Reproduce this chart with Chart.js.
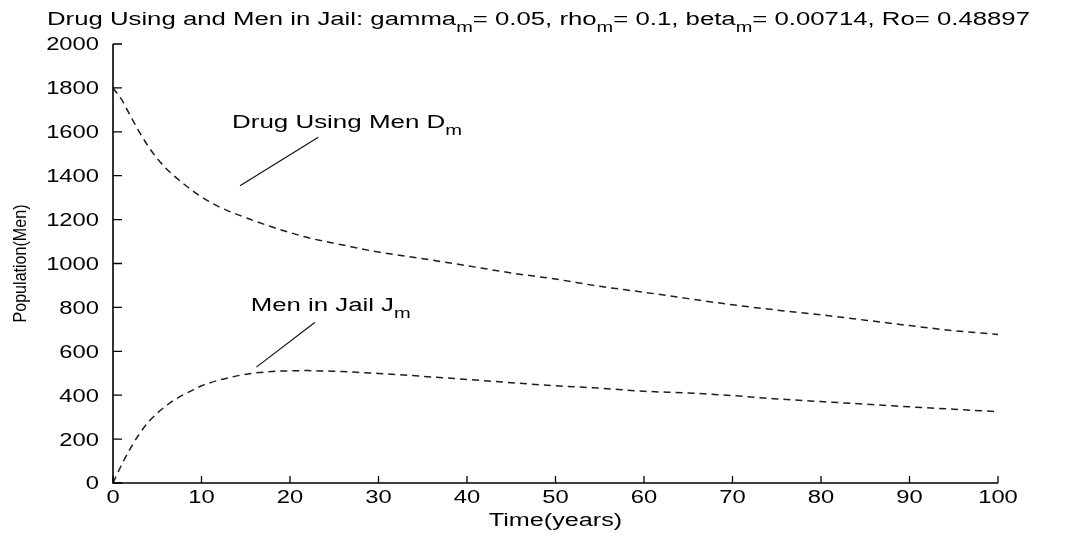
<!DOCTYPE html>
<html>
<head>
<meta charset="utf-8">
<script src="https://cdn.jsdelivr.net/npm/chart.js@4/dist/chart.umd.min.js"></script>
<style>
  html, body { margin: 0; padding: 0; background: #fff; }
  #wrap { position: relative; width: 1065px; height: 536px; }
</style>
</head>
<body>
<div id="wrap"><canvas id="c" width="1065" height="536"></canvas></div>
<script>
// Model output: time in years, populations in men
const years = [0,1,2,3,4,5,6,7,8,9,10,11,12,13,14,15,16,18,20,22,24,26,28,30,35,40,45,50,55,60,65,70,75,80,85,90,95,100];
const drugUsingMen = [1800,1745,1670,1597,1533,1478,1433,1396,1362,1331,1303,1279,1258,1240,1224,1209,1194,1166,1141,1118,1100,1084,1067,1052,1022,990,957,929,896,869,840,812,788,766,742,717,694,677];
const menInJail = [0,85,160,225,278,318,352,380,403,423,443,457,469,479,488,495,501,508,511,512,510,508,503,499,486,472,457,443,432,418,410,398,383,371,359,347,336,325];

const xTicks = [0,10,20,30,40,50,60,70,80,90,100];
const yTicks = [0,200,400,600,800,1000,1200,1400,1600,1800,2000];

const titleParts = [
  {t: 'Drug Using and Men in Jail: gamma'}, {t: 'm', sub: true},
  {t: '= 0.05, rho'}, {t: 'm', sub: true},
  {t: '= 0.1, beta'}, {t: 'm', sub: true},
  {t: '= 0.00714, Ro= 0.48897'}
];
const xTitle = 'Time(years)';
const yTitle = 'Population(Men)';

// Curve labels with leader lines, placed in axis units
const notes = [
  {parts: [{t: 'Drug Using Men D'}, {t: 'm', sub: true}], at: [13.45, 1619], width: 230,
   line: [[14.35, 1354], [23.2, 1575]]},
  {parts: [{t: 'Men in Jail J'}, {t: 'm', sub: true}], at: [15.56, 784], width: 160,
   line: [[16.2, 528], [22.8, 731]]}
];

const FONT = '"Liberation Sans", Arial, sans-serif';
const mainFont = '18px ' + FONT;
const subFont = '14px ' + FONT;

function drawParts(ctx, parts, x, y, targetW) {
  let w = 0;
  const widths = parts.map(p => {
    ctx.font = p.sub ? subFont : mainFont;
    const m = ctx.measureText(p.t).width;
    w += m;
    return m;
  });
  const sx = targetW / w;
  ctx.save();
  ctx.translate(x, y);
  ctx.scale(sx, 1);
  ctx.textAlign = 'left';
  ctx.textBaseline = 'alphabetic';
  let cx = 0;
  parts.forEach((p, i) => {
    ctx.font = p.sub ? subFont : mainFont;
    ctx.fillText(p.t, cx, p.sub ? 7 : 0);
    cx += widths[i];
  });
  ctx.restore();
}

function drawStretched(ctx, text, x, y, sx, align) {
  ctx.save();
  ctx.translate(x, y);
  ctx.scale(sx, 1);
  ctx.textAlign = align;
  ctx.textBaseline = 'alphabetic';
  ctx.fillText(text, 0, 0);
  ctx.restore();
}

const axesPlugin = {
  id: 'matlabAxes',
  afterDraw(chart) {
    const ctx = chart.ctx;
    const xs = chart.scales.x, ys = chart.scales.y;
    const a = chart.chartArea;
    ctx.save();
    ctx.strokeStyle = '#000';
    ctx.fillStyle = '#000';
    ctx.lineWidth = 1.6;
    // axis lines
    ctx.beginPath();
    ctx.moveTo(a.left, a.top);
    ctx.lineTo(a.left, a.bottom);
    ctx.lineTo(a.right, a.bottom);
    ctx.stroke();
    // inward tick marks
    ctx.lineWidth = 1.3;
    ctx.beginPath();
    xTicks.forEach(v => {
      const px = xs.getPixelForValue(v);
      ctx.moveTo(px, a.bottom);
      ctx.lineTo(px, a.bottom - 7);
    });
    yTicks.forEach(v => {
      const py = ys.getPixelForValue(v);
      ctx.moveTo(a.left, py);
      ctx.lineTo(a.left + 9, py);
    });
    ctx.stroke();
    // tick labels
    ctx.font = mainFont;
    xTicks.forEach(v => {
      drawStretched(ctx, String(v), xs.getPixelForValue(v), a.bottom + 20, 1.32, 'center');
    });
    yTicks.forEach(v => {
      drawStretched(ctx, String(v), a.left - 14, ys.getPixelForValue(v) + 6.4, 1.32, 'right');
    });
    // axis titles
    ctx.font = mainFont;
    drawStretched(ctx, xTitle, (a.left + a.right) / 2, 526, 1.4, 'center');
    ctx.save();
    ctx.translate(21, (a.top + a.bottom) / 2);
    ctx.rotate(-Math.PI / 2);
    ctx.font = '19px ' + FONT;
    const nat = ctx.measureText(yTitle).width;
    ctx.scale(118 / nat, 1);
    ctx.textAlign = 'center';
    ctx.textBaseline = 'middle';
    ctx.fillText(yTitle, 0, 0);
    ctx.restore();
    // title
    drawParts(ctx, titleParts, 47, 25, 983);
    // curve labels and leader lines
    ctx.lineWidth = 1.2;
    ctx.strokeStyle = '#111';
    notes.forEach(n => {
      drawParts(ctx, n.parts, xs.getPixelForValue(n.at[0]), ys.getPixelForValue(n.at[1]), n.width);
      ctx.beginPath();
      ctx.moveTo(xs.getPixelForValue(n.line[0][0]), ys.getPixelForValue(n.line[0][1]));
      ctx.lineTo(xs.getPixelForValue(n.line[1][0]), ys.getPixelForValue(n.line[1][1]));
      ctx.stroke();
    });
    ctx.restore();
  }
};

const lineStyle = {
  borderColor: '#1e1e1e',
  borderWidth: 1.5,
  borderDash: [7, 5],
  pointRadius: 0,
  fill: false,
  cubicInterpolationMode: 'monotone'
};

new Chart(document.getElementById('c'), {
  type: 'line',
  data: {
    datasets: [
      Object.assign({label: 'Drug Using Men D_m', data: years.map((t, i) => ({x: t, y: drugUsingMen[i]}))}, lineStyle),
      Object.assign({label: 'Men in Jail J_m', data: years.map((t, i) => ({x: t, y: menInJail[i]}))}, lineStyle)
    ]
  },
  options: {
    responsive: false,
    animation: false,
    events: [],
    layout: {padding: {left: 0, top: 44, right: 67, bottom: 0}},
    plugins: {legend: {display: false}, title: {display: false}, tooltip: {enabled: false}},
    scales: {
      x: {
        type: 'linear', min: 0, max: 100,
        grid: {display: false}, border: {display: false},
        ticks: {display: false},
        afterFit: s => { s.height = 53; }
      },
      y: {
        type: 'linear', min: 0, max: 2000,
        grid: {display: false}, border: {display: false},
        ticks: {display: false},
        afterFit: s => { s.width = 113; }
      }
    }
  },
  plugins: [axesPlugin]
});
</script>
</body>
</html>
